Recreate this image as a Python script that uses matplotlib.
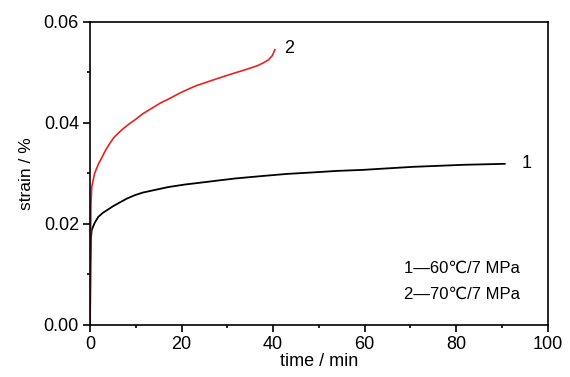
import matplotlib
matplotlib.use("Agg")
import matplotlib.pyplot as plt
from matplotlib.ticker import MultipleLocator

plt.rcParams['font.family'] = ['Liberation Sans Narrow', 'Liberation Sans', 'DejaVu Sans']

# curve 1: 60 C / 7 MPa
t1 = [0, 0.1, 0.2, 0.36, 1.0, 1.8, 2.8, 4.0, 5.0, 6.2, 8.0, 9.8, 11.5, 13.5, 17.1, 20.7, 24.4, 28,
      31.7, 37.8, 43, 48.7, 54, 59.6, 65, 70.5, 76, 81.4, 86, 90.6]
s1 = [0, 0.012, 0.0172, 0.0188, 0.0202, 0.0214, 0.0222, 0.0229, 0.0235, 0.0241, 0.0250, 0.0257,
      0.0262, 0.0266, 0.0273, 0.0278, 0.0282, 0.0286, 0.0290, 0.0295, 0.0299, 0.0302, 0.0305,
      0.0307, 0.0310, 0.0313, 0.0315, 0.0317, 0.0318, 0.0319]

# curve 2: 70 C / 7 MPa
t2 = [0, 0.1, 0.2, 0.37, 1.0, 1.8, 2.55, 3.4, 4.37, 5.2, 6.2, 7.3, 8.4, 9.8, 11.5, 13.5, 15.3,
      17.1, 19.6, 21.5, 23.3, 26.9, 30.6, 34.2, 36.5, 37.9, 39.0, 39.8, 40.4]
s2 = [0, 0.016, 0.024, 0.0273, 0.0300, 0.0318, 0.0331, 0.0346, 0.0360, 0.0371, 0.0380, 0.0389,
      0.0397, 0.0406, 0.0418, 0.0429, 0.0439, 0.0447, 0.0459, 0.0467, 0.0474, 0.0485, 0.0496,
      0.0506, 0.0513, 0.0519, 0.0525, 0.0533, 0.0545]

fig = plt.figure(figsize=(5.7, 3.77), dpi=100)
ax = fig.add_axes([0.158, 0.138, 0.803, 0.804])

ax.plot(t1, s1, color='black', lw=1.3)
ax.plot(t2, s2, color='#e8231f', lw=1.2)

ax.set_xlim(0, 100)
ax.set_ylim(0, 0.06)
ax.xaxis.set_major_locator(MultipleLocator(20))
ax.xaxis.set_minor_locator(MultipleLocator(10))
ax.yaxis.set_minor_locator(MultipleLocator(0.01))
ax.set_yticks([0, 0.02, 0.04, 0.06], ['0.00', '0.02', '0.04', '0.06'])
ax.tick_params(which='major', direction='out', length=5, width=1.2, labelsize=13, pad=3)
ax.tick_params(which='minor', direction='out', length=2.3, width=1.2)
for sp in ax.spines.values():
    sp.set_linewidth(1.2)

ax.set_xlabel('time / min', fontsize=13, labelpad=0)
ax.set_ylabel('strain / %', fontsize=12.5, labelpad=7)

ax.text(94.2, 0.0319, '1', fontsize=13, va='center', ha='left')
ax.text(42.3, 0.0547, '2', fontsize=13, va='center', ha='left')
ax.text(68.5, 0.0113, '1\u201460\u2103/7 MPa', fontsize=12, va='center',
        family=['Liberation Sans Narrow', 'Liberation Sans', 'DejaVu Sans'])
ax.text(68.5, 0.0061, '2\u201470\u2103/7 MPa', fontsize=12, va='center',
        family=['Liberation Sans Narrow', 'Liberation Sans', 'DejaVu Sans'])

fig.savefig('out.png', dpi=100)
